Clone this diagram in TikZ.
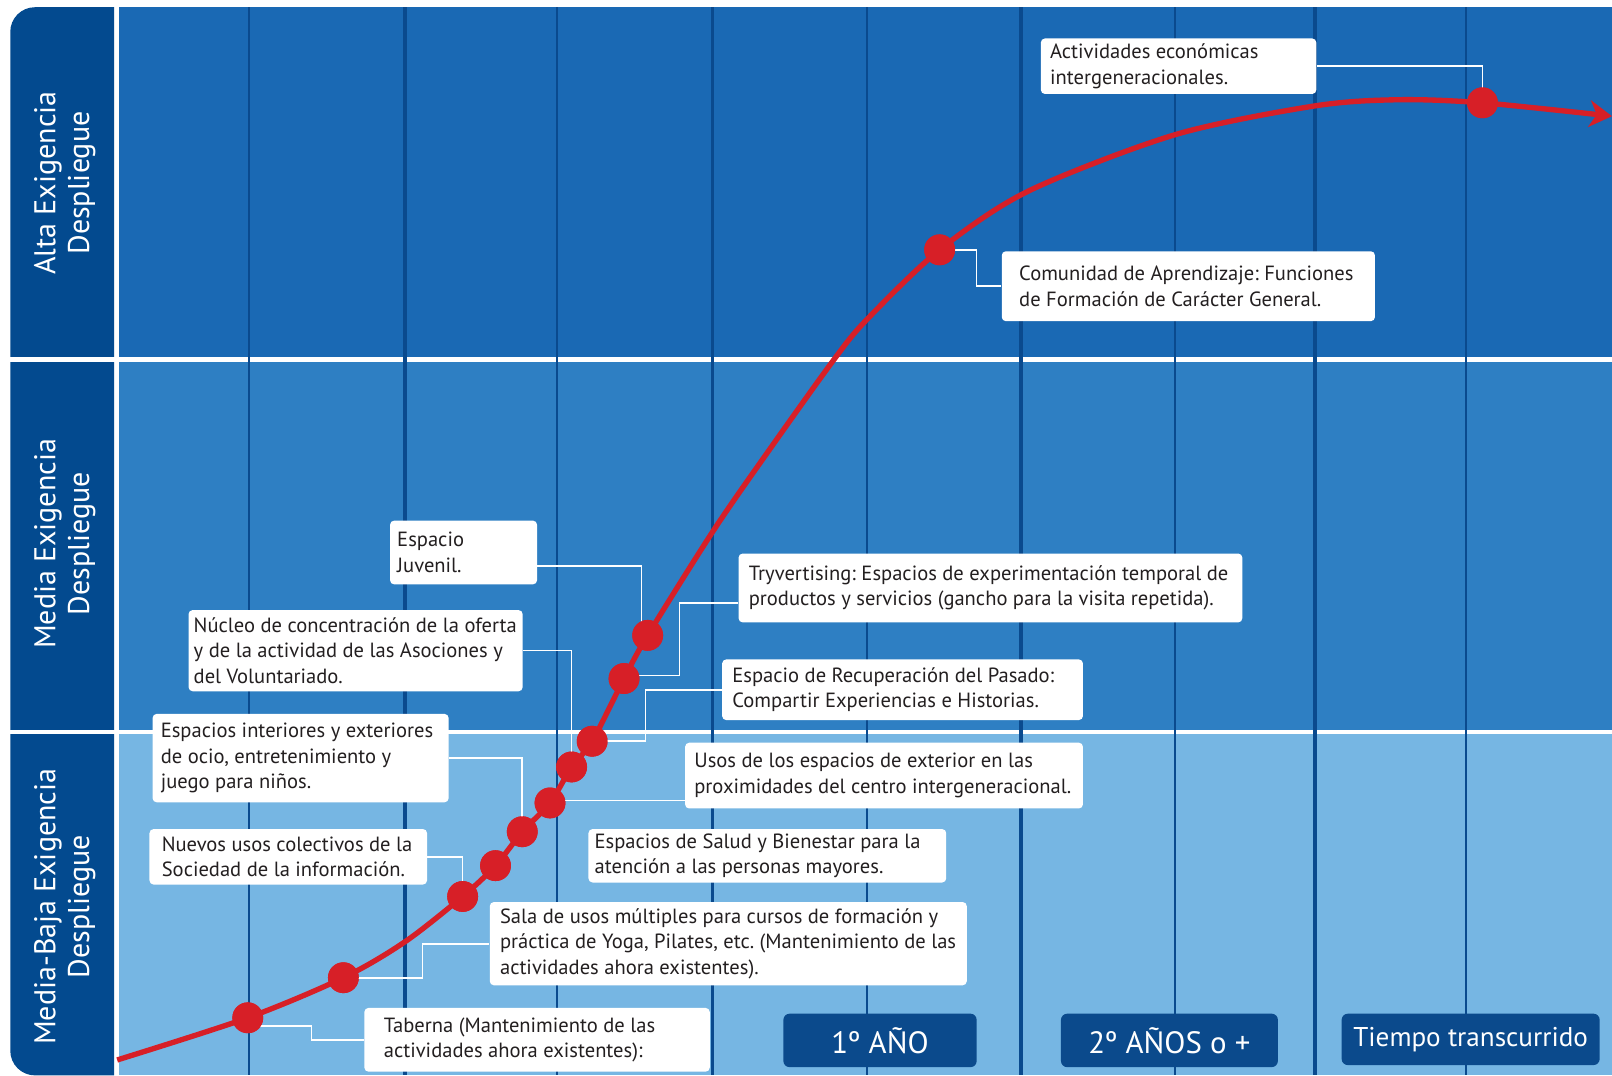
\documentclass[tikz,border=0pt]{standalone}
\usepackage{fontspec}
\setmainfont{PT Sans}
\usetikzlibrary{calc,arrows.meta}
\definecolor{altac}{HTML}{1A69B4}
\definecolor{mediac}{HTML}{2E7FC3}
\definecolor{bajac}{HTML}{76B6E3}
\definecolor{colc}{HTML}{034A8F}
\definecolor{gridc}{HTML}{0A4A8E}
\definecolor{redc}{HTML}{D71F27}
\definecolor{txtc}{HTML}{231F20}
\definecolor{yearc}{HTML}{0B4A8C}
\frenchspacing
% box: name, x, y, w, h, left pad, text
\newcommand\tbox[7]{%
  \pgfmathsetmacro\tbmw{#4*0.5}%
  \pgfmathsetmacro\tbmh{#5*0.5}%
  \node[boxbg, anchor=north west, minimum width=\tbmw pt, minimum height=\tbmh pt] (#1) at (#2,#3) {};
  \node[boxtxt, anchor=west] (#1t) at ($(#1.west)+(#6,0)$) {#7};}
\begin{document}
\begin{tikzpicture}[x=0.5pt,y=-0.5pt,
  boxbg/.style={fill=white, rounded corners=2pt, inner sep=0pt},
  boxtxt/.style={text=txtc, align=left, inner sep=0pt,
              font=\fontsize{10}{12.5}\selectfont\frenchspacing},
  dot/.style={circle, fill=redc, inner sep=0pt, minimum size=15pt},
  conn/.style={draw=white, line width=0.8pt},
  curve/.style={draw=redc, line width=2.6pt},
  lab/.style={rotate=90, text=white, align=center, font=\fontsize{14.6}{16.5}\selectfont},
  yearbox/.style={fill=yearc, rounded corners=3pt, text=white, inner sep=0pt},
  thingrid/.style={draw=gridc, line width=1pt},
  thickgrid/.style={draw=gridc, line width=1.8pt}]
\useasboundingbox (0,0) rectangle (1568,1046);
\fill[white] (0,0) rectangle (1568,1046);
\begin{scope}
\clip (0,0) rectangle (1568,1046);
% left column
\fill[colc] (111,1046) -- (111,7) [rounded corners=12pt] -- (10,7) -- (10,1046) [sharp corners] -- cycle;
% bands
\fill[altac] (116,7) rectangle (1568,347);
\fill[mediac] (116,352) rectangle (1568,710);
\fill[bajac] (116,714) rectangle (1568,1046);
% separators
\fill[white] (10,347) rectangle (1568,352);
\fill[white] (10,710) rectangle (1568,714);
% grid lines
\foreach \gx in {242,542,843,1143,1426} \draw[thingrid] (\gx,7) -- (\gx,1046);
\foreach \gx in {394,693,993,1279} \draw[thickgrid] (\gx,7) -- (\gx,1046);
% left labels
\node[lab] (la) at (63,178) {Alta Exigencia\\Despliegue};
\node[lab] (lm) at (63,529) {Media Exigencia\\Despliegue};
\node[lab] (lb) at (63,882) {Media-Baja Exigencia\\Despliegue};
% curve
\draw[curve, -{Stealth[length=11pt,width=13pt]}] plot[smooth, tension=0.5] coordinates {
 (114,1031) (241,990) (334,951) (394,916) (450,872) (482,842) (508,809) (535,781) (556,746) (576,721)
 (607,660) (630,618) (694,516) (748,438) (811,350) (843,311) (914,243) (1000,186) (1143,131) (1279,103) (1360,97) (1442,100) (1568,113)};
% boxes
\tbox{act}{1012}{37}{268}{54}{9}{Actividades económicas\\intergeneracionales.}
\tbox{com}{974}{244}{363}{68}{17}{Comunidad de Aprendizaje: Funciones\\de Formación de Carácter General.}
\tbox{juv}{379}{506}{143}{62}{7}{Espacio\\Juvenil.}
\tbox{try}{718}{538}{490}{67}{10}{Tryvertising: Espacios de experimentación temporal de\\productos y servicios (gancho para la visita repetida).}
\tbox{nuc}{183}{593}{325}{79}{5}{Núcleo de concentración de la oferta\\y de la actividad de las Asociones y\\del Voluntariado.}
\tbox{rec}{702}{641}{351}{59}{10}{Espacio de Recuperación del Pasado:\\Compartir Experiencias e Historias.}
\tbox{int}{148}{694}{288}{86}{8}{Espacios interiores y exteriores\\de ocio, entretenimiento y\\juego para niños.}
\tbox{usos}{666}{722}{387}{64}{9}{Usos de los espacios de exterior en las\\proximidades del centro intergeneracional.}
\tbox{nue}{145}{806}{270}{54}{12}{Nuevos usos colectivos de la\\Sociedad de la información.}
\tbox{sal}{572}{806}{348}{52}{6}{Espacios de Salud y Bienestar para la\\atención a las personas mayores.}
\tbox{sala}{476}{877}{464}{81}{10}{Sala de usos múltiples para cursos de formación y\\práctica de Yoga, Pilates, etc. (Mantenimiento de las\\actividades ahora existentes).}
\tbox{tab}{354}{980}{336}{62}{19}{Taberna (Mantenimiento de las\\actividades ahora existentes):}
% year boxes
\node[yearbox, minimum width=94pt, minimum height=26pt, font=\fontsize{15}{15}\selectfont] (y1) at (856,1012) {1º AÑO};
\node[yearbox, minimum width=105.5pt, minimum height=26pt, font=\fontsize{15}{15}\selectfont] (y2) at (1137.5,1012) {2º AÑOS o +};
\node[yearbox, minimum width=125.5pt, minimum height=25pt, font=\fontsize{13.2}{14}\selectfont] (tt) at (1430.5,1011) {Tiempo transcurrido};
% dots
\node[dot] (d1) at (241,990) {};
\node[dot] (d2) at (334,951) {};
\node[dot] (d3) at (450,872) {};
\node[dot] (d4) at (482,842) {};
\node[dot] (d5) at (508,809) {};
\node[dot] (d6) at (535,781) {};
\node[dot] (d7) at (556,746) {};
\node[dot] (d8) at (576,721) {};
\node[dot] (d9) at (607,660) {};
\node[dot] (d10) at (630,618) {};
\node[dot] (d11) at (914,243) {};
\node[dot] (d12) at (1442,100) {};
% connectors
\draw[conn] ($(d1.center)+(0,8)$) -- (303,998) |- (tab.west);
\draw[conn] (d2.center) -- (411,951) |- (sala.west);
\draw[conn] (nue.east) -| (d3.center);
\draw[conn] (int.east) -| (d5.center);
\coordinate (pu) at ($(usos.south west)+(0,-8)$);
\draw[conn] (d6.center |- pu) -- (pu);
\draw[conn] (nuc.east) -| (d7.center);
\draw[conn] (rec.west) -| (628,721) -- (d8.center);
\coordinate (pt) at ($(try.south west)+(0,-19)$);
\draw[conn] (pt) -| ($(d9.center)+(54,-3)$) -- ($(d9.center)+(0,-3)$);
\coordinate (pj) at ($(juv.south east)+(0,-18)$);
\draw[conn] (pj) -| ($(d10.center)+(-6,0)$);
\draw[conn] (d11.center) -- ($(d11.center)+(36,0)$) |- (com.west);
\draw[conn] (act.east) -| (d12.center);
% dots on top of connectors
\foreach \dn in {d1,d2,d3,d4,d5,d6,d7,d8,d9,d10,d11,d12}
  \fill[redc] (\dn.center) circle (7.5pt);
\end{scope}
\end{tikzpicture}
\end{document}
